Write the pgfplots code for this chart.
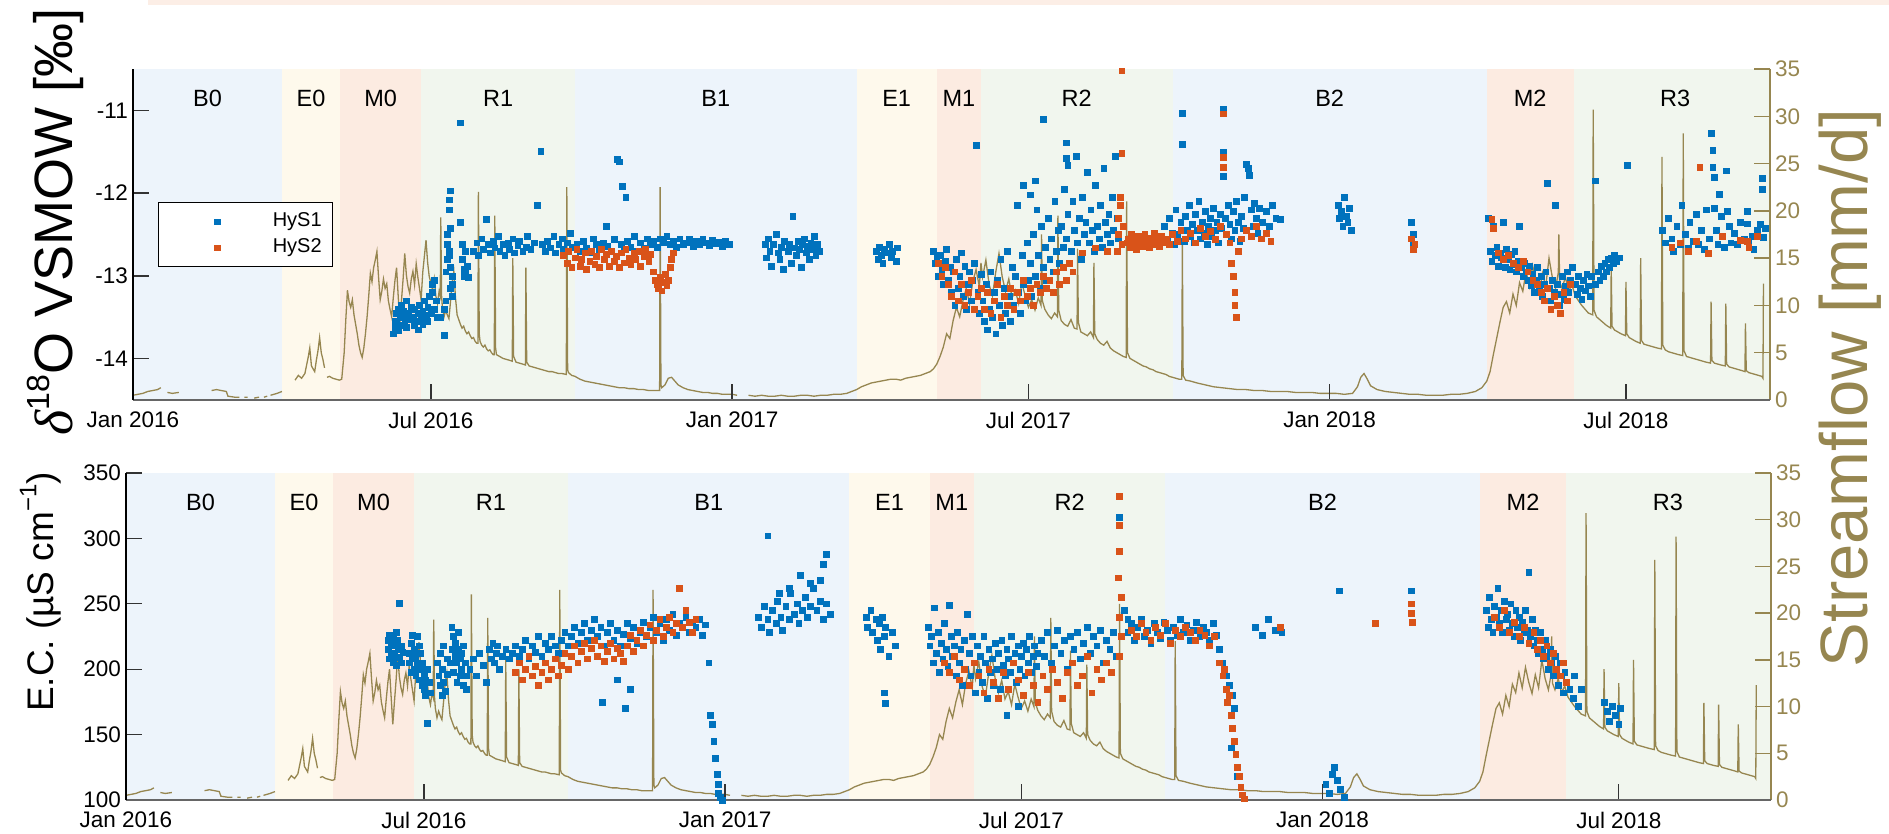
\documentclass[border=0pt]{standalone}
\usepackage{fontspec}
\setmainfont{Liberation Sans}
\newfontfamily\greekserif{Liberation Serif}
\usepackage{pgfplots}
\pgfplotsset{compat=1.18}
\usepackage{pgfplotstable}
\definecolor{flowc}{RGB}{150,134,80}
\definecolor{hysA}{RGB}{0,114,189}
\definecolor{hysB}{RGB}{217,83,25}
\definecolor{cB}{RGB}{237,244,251}
\definecolor{cE}{RGB}{254,249,236}
\definecolor{cM}{RGB}{252,235,225}
\definecolor{cR}{RGB}{241,246,238}
\definecolor{strip}{RGB}{252,238,230}
\newcommand{\tf}{\fontsize{22.5bp}{27bp}\selectfont}
\newcommand{\lf}{\fontsize{23.5bp}{28bp}\selectfont}

% streamflow (mm/d), days since 1 Jan 2016
\pgfplotstableread[row sep=\\]{d q\\
0 0.5\\ 3 0.6\\ 6 0.7\\ 9 0.9\\ 12 1.0\\ 15 1.1\\ 17 1.3\\ 18 nan\\ 21 0.8\\ 24 0.7\\ 28 0.8\\ 29 nan\\
48 1.0\\ 51 1.1\\ 54 1.0\\ 57 0.9\\ 58 0.4\\ 62 0.3\\ 65 0.3\\ 66 nan\\ 68 0.3\\ 70 0.3\\ 71 nan\\ 74 0.2\\ 77 0.3\\ 78 nan\\
80 0.3\\ 82 0.4\\ 83 nan\\ 84 0.5\\ 86 0.6\\ 88 0.7\\ 91 0.9\\ 92 nan\\
99 2.1\\ 101 2.6\\ 103 2.3\\ 105 2.8\\ 107 4.5\\ 108 5.5\\ 109 3.6\\ 111 3.0\\ 112 4.2\\ 113 5.2\\ 114 6.6\\ 115 5.0\\ 116 4.3\\ 117 3.4\\ 117.5 nan\\
118.5 2.4\\ 120 2.5\\ 122 2.3\\ 124 2.2\\ 126 2.1\\ 127.5 2.2\\
129 5.0\\ 130 8.5\\ 131 11.6\\ 132 10.4\\ 133 9.8\\ 134 10.6\\ 135 9.0\\ 136 8.0\\ 137 7.0\\ 138 5.8\\ 139 5.0\\ 140 4.5\\ 141 5.5\\ 142 7.0\\ 143 8.8\\ 144 11.0\\ 145 13.4\\ 146 12.5\\ 147 14.0\\ 148 14.8\\ 149 15.7\\ 150 13.0\\
151 10.6\\ 152 11.5\\ 153 12.8\\ 154 11.8\\ 155 12.3\\ 156 10.5\\ 157 9.6\\ 158 8.8\\ 159 10.8\\ 160 12.6\\ 161 14.0\\ 162 11.0\\ 163 8.1\\ 164 10.5\\ 165 12.8\\ 166 15.5\\ 167 13.2\\ 168 12.0\\ 169 11.3\\ 170 12.8\\
171 13.6\\ 172 12.2\\ 173 14.4\\ 174 13.0\\ 175 11.8\\ 176 10.6\\ 177 13.5\\ 178 15.2\\ 179 16.9\\ 180 14.5\\ 181 13.0\\ 182 12.4\\ 183 11.6\\ 184 12.8\\ 185 11.0\\ 186 10.2\\ 187 11.5\\ 187.7 11.0\\ 188 19.3\\ 188.5 11.0\\
189 9.8\\ 190 8.8\\ 191 9.5\\ 192 9.0\\ 193 8.6\\ 194 10.5\\ 195 12.5\\ 196 13.6\\ 197 10.8\\ 198 9.0\\ 199 8.5\\ 200 8.0\\ 201 7.6\\ 202 7.8\\ 203 7.3\\ 204 7.0\\ 205 7.2\\ 206 6.8\\ 207 6.5\\ 208 6.6\\ 209 6.2\\ 210 6.0\\
210.7 6.0\\ 211 22.0\\ 211.5 7.0\\ 212 6.2\\ 213 5.8\\ 214 5.6\\ 215 5.8\\ 216 5.4\\ 217 5.2\\ 218 5.3\\ 219 5.0\\ 220 4.8\\ 220.7 4.8\\ 221 19.5\\ 221.5 5.5\\ 222 4.8\\ 224 4.6\\ 226 4.4\\ 228 4.3\\ 230 4.2\\
231.7 4.1\\ 232 15.0\\ 232.5 4.6\\ 234 4.0\\ 236 3.9\\ 238 3.8\\ 239.7 3.7\\ 240 14.0\\ 240.5 4.0\\ 242 3.6\\ 244 3.5\\ 246 3.4\\ 248 3.3\\ 250 3.2\\ 252 3.1\\ 254 3.0\\ 256 3.0\\ 258 2.9\\ 260 2.8\\ 262 2.8\\
264.7 2.7\\ 265 22.5\\ 265.5 3.2\\ 266 2.9\\ 268 2.6\\ 270 2.5\\ 273 2.2\\ 276 2.0\\ 279 1.9\\ 282 1.8\\ 285 1.7\\ 288 1.6\\ 291 1.5\\ 294 1.4\\ 297 1.3\\ 300 1.3\\ 303 1.2\\ 306 1.2\\ 309 1.1\\ 312 1.1\\ 315 1.0\\ 318 1.0\\
321.7 1.0\\ 322 22.5\\ 322.5 1.6\\ 323 1.3\\ 325 1.6\\ 327 2.3\\ 329 2.4\\ 331 2.0\\ 333 1.6\\ 336 1.3\\ 339 1.1\\ 342 1.0\\ 345 0.9\\ 348 0.8\\ 351 0.8\\ 354 0.7\\ 357 0.7\\ 360 0.6\\ 363 0.6\\ 366 0.6\\ 369 0.5\\ 372 nan\\
376 0.5\\ 380 0.4\\ 384 0.5\\ 388 0.4\\ 392 0.4\\ 396 0.5\\ 400 0.4\\ 404 0.4\\ 408 0.5\\ 412 0.5\\ 416 0.4\\ 420 0.5\\ 424 0.5\\ 428 0.6\\ 432 0.6\\ 436 0.7\\ 439 0.9\\ 442 1.1\\ 445 1.4\\ 448 1.6\\ 451 1.8\\
454 1.9\\ 457 2.0\\ 460 2.1\\ 463 2.2\\ 466 2.2\\ 469 2.1\\ 472 2.3\\ 475 2.4\\ 478 2.5\\ 481 2.6\\ 484 2.8\\ 487 3.0\\ 489 3.3\\ 491 3.8\\ 493 4.6\\ 495 5.6\\ 497 7.0\\ 499 6.5\\ 501 8.4\\ 503 9.8\\ 505 8.8\\
507 10.5\\ 509 11.8\\ 511 10.2\\ 513 12.5\\ 515 13.8\\ 517 12.0\\ 518 14.5\\ 519 13.0\\ 521 14.8\\ 523 12.2\\ 525 11.0\\ 527 13.5\\ 529 15.5\\ 531 13.0\\ 533 11.5\\ 535 12.8\\ 537 10.8\\ 539 11.6\\ 541 10.2\\
543 12.4\\ 545 11.0\\ 547 9.8\\ 549 10.6\\ 551 9.5\\ 553 10.8\\ 554.7 10.0\\ 555 17.5\\ 555.5 10.5\\ 557 9.6\\ 559 9.0\\ 561 8.6\\ 563 9.2\\ 564.7 8.8\\ 565 19.5\\ 565.5 9.5\\ 567 8.4\\ 569 8.0\\ 571 7.8\\ 573 8.5\\
575 7.6\\ 576.7 7.5\\ 577 16.0\\ 577.5 8.2\\ 579 7.2\\ 581 7.0\\ 583 6.8\\ 585 7.2\\ 586.7 6.6\\ 587 14.5\\ 587.5 7.0\\ 589 6.4\\ 591 6.0\\ 593 5.8\\ 595 6.2\\ 597 5.5\\ 599 5.2\\ 601 5.0\\ 603 4.8\\ 605 4.6\\
606.7 4.5\\ 607 21.0\\ 607.5 5.0\\ 609 4.4\\ 611 4.2\\ 613 4.0\\ 615 3.8\\ 617 3.6\\ 619 3.5\\ 621 3.3\\ 623 3.2\\ 625 3.0\\ 627 2.9\\ 629 2.8\\ 631 2.7\\ 633 2.5\\ 635 2.4\\ 637 2.3\\ 639 2.2\\
640.7 2.2\\ 641 17.0\\ 641.5 2.6\\ 643 2.1\\ 646 2.0\\ 650 1.8\\ 655 1.6\\ 660 1.4\\ 665 1.3\\ 670 1.2\\ 675 1.1\\ 680 1.1\\ 685 1.0\\ 690 1.0\\ 695 0.9\\ 700 0.9\\ 705 0.9\\ 710 0.8\\ 715 0.8\\ 720 0.8\\
725 0.7\\ 730 0.7\\ 735 0.7\\ 740 0.6\\ 745 0.7\\ 748 1.4\\ 750 2.4\\ 752 2.8\\ 754 2.2\\ 756 1.5\\ 760 1.1\\ 765 0.9\\ 770 0.8\\ 775 0.7\\ 780 0.6\\ 785 0.6\\ 790 0.5\\ 795 0.5\\ 800 0.5\\ 805 0.6\\ 810 0.6\\
815 0.7\\ 820 0.9\\ 824 1.3\\ 827 2.0\\ 829 3.0\\ 831 4.8\\ 833 6.5\\ 835 8.2\\ 837 9.8\\ 839 10.4\\ 841 9.2\\ 843 11.2\\ 845 10.0\\ 847 12.4\\ 849 11.5\\ 851 13.6\\ 853 12.0\\ 855 14.2\\ 857 12.6\\ 859 11.4\\
861 13.4\\ 863 12.0\\ 865 15.0\\ 867 13.0\\ 869 11.8\\ 870.7 13.5\\ 871 17.5\\ 871.5 12.5\\ 873 11.8\\ 875 13.0\\ 877 11.5\\ 879 12.2\\ 881 11.0\\ 883 10.5\\ 885 10.0\\ 887 9.6\\ 889 9.2\\
891.7 9.0\\ 892 30.7\\ 892.5 9.5\\ 894 8.8\\ 896 8.5\\ 898 8.2\\ 900 7.9\\ 902.7 7.6\\ 903 14.0\\ 903.5 7.8\\ 905 7.4\\ 907 7.2\\ 909 7.0\\ 911.7 6.8\\ 912 12.5\\ 912.5 7.0\\ 914 6.6\\ 916 6.4\\ 918 6.2\\
920.7 6.0\\ 921 15.0\\ 921.5 6.3\\ 923 5.9\\ 925 5.8\\ 927 5.7\\ 929 5.6\\ 931 5.5\\ 933.7 5.4\\ 934 25.7\\ 934.5 5.8\\ 936 5.3\\ 938 5.1\\ 940 5.0\\ 942 4.9\\ 944 4.8\\ 946.7 4.7\\ 947 28.2\\ 947.5 5.2\\
949 4.6\\ 951 4.5\\ 953 4.4\\ 955 4.3\\ 957 4.2\\ 959 4.1\\ 961 4.0\\ 963.7 3.9\\ 964 10.4\\ 964.5 4.2\\ 966 3.9\\ 968 3.8\\ 970 3.7\\ 972.7 3.6\\ 973 10.2\\ 973.5 3.8\\ 975 3.5\\ 977 3.4\\ 979 3.3\\
981 3.2\\ 983 3.1\\ 984.7 3.0\\ 985 8.1\\ 985.5 3.1\\ 987 2.9\\ 989 2.8\\ 991 2.7\\ 993 2.6\\ 995 2.5\\ 995.7 2.3\\ 996 12.3\\
}\flow

% delta18O HyS1
\pgfplotstableread[row sep=\\]{d v\\
159 -13.70\\ 160 -13.55\\ 160 -13.62\\ 161 -13.45\\ 161 -13.58\\ 162 -13.40\\ 162 -13.66\\ 163 -13.50\\ 164 -13.35\\ 164 -13.60\\ 165 -13.48\\ 165 -13.42\\ 166 -13.55\\ 167 -13.30\\ 167 -13.62\\ 168 -13.45\\ 169 -13.52\\ 170 -13.38\\
171 -13.50\\ 172 -13.60\\ 172 -13.40\\ 173 -13.55\\ 174 -13.45\\ 174 -13.65\\ 175 -13.35\\ 176 -13.50\\ 177 -13.42\\ 177 -13.58\\ 178 -13.30\\ 179 -13.48\\ 180 -13.38\\ 180 -13.55\\ 181 -13.25\\ 182 -13.45\\ 183 -13.10\\ 183 -13.20\\ 184 -13.05\\ 184 -13.40\\ 185 -13.30\\ 186 -13.50\\ 188 -13.50\\
190 -13.72\\ 190 -13.40\\ 191 -13.30\\ 191 -12.95\\ 192 -12.80\\ 192 -12.62\\ 192 -12.50\\ 193 -12.20\\ 193 -12.08\\ 194 -11.97\\ 194 -12.42\\ 193 -12.70\\ 194 -12.90\\ 195 -13.00\\ 195 -13.10\\ 195 -13.25\\ 193 -12.75\\ 194 -13.15\\
200 -11.15\\ 200 -12.35\\ 201 -12.62\\ 201 -12.80\\ 202 -12.92\\ 202 -13.00\\ 203 -12.95\\ 204 -12.88\\ 203 -12.70\\ 205 -13.02\\
208 -12.70\\ 210 -12.60\\ 211 -12.75\\ 213 -12.55\\ 214 -12.68\\ 216 -12.32\\ 217 -12.62\\ 218 -12.72\\ 220 -12.58\\ 221 -12.66\\ 223 -12.52\\ 224 -12.70\\ 226 -12.62\\ 227 -12.75\\ 229 -12.60\\ 230 -12.68\\ 232 -12.55\\ 233 -12.72\\
235 -12.63\\ 236 -12.58\\ 238 -12.70\\ 240 -12.65\\ 241 -12.52\\ 243 -12.68\\ 245 -12.60\\ 247 -12.15\\ 249 -11.49\\ 250 -12.62\\ 252 -12.70\\ 253 -12.58\\ 255 -12.66\\ 257 -12.52\\ 258 -12.72\\ 260 -12.62\\ 262 -12.55\\ 263 -12.68\\ 265 -12.60\\ 267 -12.48\\ 268 -12.65\\
271 -12.62\\ 273 -12.70\\ 275 -12.58\\ 277 -12.66\\ 279 -12.72\\ 281 -12.55\\ 283 -12.62\\ 285 -12.68\\ 287 -12.60\\ 289 -12.40\\ 290 -12.64\\ 292 -12.70\\ 294 -12.56\\ 296 -11.59\\ 297 -11.62\\ 298 -12.62\\ 299 -11.92\\ 300 -12.68\\ 301 -12.05\\ 302 -12.58\\
304 -12.65\\ 306 -12.52\\ 308 -12.70\\ 310 -12.60\\ 312 -12.66\\ 314 -12.55\\ 316 -12.62\\ 318 -12.58\\ 320 -12.65\\ 322 -12.55\\ 324 -12.60\\ 326 -12.52\\ 328 -12.62\\ 330 -12.58\\ 332 -12.65\\ 334 -12.55\\ 336 -12.62\\ 338 -12.60\\
340 -12.56\\ 342 -12.64\\ 344 -12.58\\ 346 -12.62\\ 348 -12.55\\ 350 -12.60\\ 352 -12.63\\ 354 -12.57\\ 356 -12.61\\ 358 -12.59\\ 360 -12.64\\ 362 -12.58\\ 364 -12.62\\
386 -12.62\\ 387 -12.78\\ 388 -12.55\\ 389 -12.70\\ 390 -12.88\\ 391 -12.62\\ 393 -12.50\\ 394 -12.72\\ 395 -12.80\\ 396 -12.65\\ 397 -12.92\\ 398 -12.58\\ 400 -12.70\\ 401 -12.62\\ 402 -12.85\\ 403 -12.28\\ 404 -12.66\\ 405 -12.75\\
406 -12.58\\ 407 -12.68\\ 408 -12.90\\ 409 -12.62\\ 410 -12.55\\ 411 -12.72\\ 412 -12.64\\ 413 -12.80\\ 414 -12.60\\ 415 -12.68\\ 416 -12.52\\ 417 -12.75\\ 418 -12.62\\ 419 -12.70\\
454 -12.70\\ 455 -12.80\\ 456 -12.65\\ 457 -12.75\\ 458 -12.85\\ 459 -12.68\\ 460 -12.72\\ 462 -12.62\\ 463 -12.78\\ 464 -12.70\\ 466 -12.82\\ 467 -12.66\\
489 -12.70\\ 490 -12.85\\ 491 -12.78\\ 492 -13.00\\ 493 -12.75\\ 494 -12.92\\ 495 -13.10\\ 496 -12.82\\ 497 -12.68\\ 498 -13.05\\ 499 -12.90\\ 500 -13.20\\ 501 -12.95\\ 502 -13.35\\ 503 -12.80\\ 504 -13.15\\ 505 -13.00\\
506 -12.72\\ 507 -13.25\\ 508 -12.88\\ 509 -13.40\\ 510 -13.10\\ 511 -12.95\\ 512 -13.30\\ 513 -13.05\\ 514 -12.85\\ 515 -11.42\\ 516 -13.20\\ 517 -13.45\\ 518 -12.98\\
519 -13.30\\ 520 -13.55\\ 521 -13.10\\ 522 -13.65\\ 523 -13.40\\ 524 -12.95\\ 525 -13.50\\ 526 -13.20\\ 527 -13.70\\ 528 -13.05\\ 529 -13.35\\ 530 -12.80\\ 531 -13.60\\ 532 -13.15\\ 533 -13.45\\ 534 -12.70\\ 535 -13.25\\ 536 -13.55\\
537 -12.90\\ 538 -13.35\\ 539 -13.00\\ 540 -12.15\\ 541 -13.20\\ 542 -13.45\\ 543 -12.75\\ 544 -13.10\\ 545 -13.30\\ 546 -12.60\\ 547 -13.05\\ 548 -12.85\\ 549 -13.25\\ 550 -12.50\\ 551 -13.00\\ 552 -12.20\\ 553 -12.75\\ 554 -13.15\\
555 -12.40\\ 556 -12.90\\ 557 -12.65\\ 558 -13.05\\ 559 -12.30\\ 560 -12.80\\ 561 -12.55\\ 562 -12.95\\ 563 -12.10\\ 564 -12.70\\ 565 -12.45\\ 566 -12.85\\ 544 -11.90\\ 548 -12.02\\ 551 -11.85\\ 556 -11.11\\
567 -12.40\\ 568 -12.65\\ 569 -11.95\\ 570 -12.55\\ 571 -12.25\\ 570 -11.39\\ 570 -11.58\\ 571 -11.66\\ 573 -12.70\\ 574 -12.10\\ 575 -12.45\\ 576 -11.55\\ 577 -12.60\\ 578 -12.30\\ 579 -12.80\\ 580 -12.05\\ 581 -12.50\\
582 -12.35\\ 583 -11.75\\ 584 -12.60\\ 585 -12.20\\ 586 -12.45\\ 587 -12.70\\ 588 -11.90\\ 589 -12.40\\ 590 -12.55\\ 591 -12.15\\ 592 -12.65\\ 593 -11.70\\ 594 -12.35\\ 595 -12.50\\ 596 -12.25\\ 597 -12.60\\ 598 -12.05\\ 599 -12.45\\ 600 -11.55\\ 601 -12.30\\ 602 -12.55\\
630 -12.40\\ 632 -12.55\\ 633 -12.30\\ 635 -12.48\\ 636 -12.62\\ 637 -12.20\\ 638 -12.50\\ 640 -12.35\\ 641 -11.03\\ 641 -11.41\\ 642 -12.58\\ 643 -12.28\\ 644 -12.45\\ 645 -12.15\\ 646 -12.52\\ 647 -12.38\\ 648 -12.60\\ 649 -12.25\\
650 -12.45\\ 651 -12.10\\ 652 -12.55\\ 653 -12.35\\ 654 -12.48\\ 655 -12.22\\ 656 -12.62\\ 657 -12.40\\ 658 -12.30\\ 659 -12.52\\ 660 -12.18\\ 661 -12.45\\ 662 -12.35\\ 663 -12.60\\ 664 -12.25\\ 665 -12.42\\ 666 -10.99\\ 666 -11.51\\ 666 -11.80\\
667 -12.30\\ 668 -12.50\\ 669 -12.15\\ 670 -12.38\\ 671 -12.55\\ 672 -12.22\\ 673 -12.45\\ 674 -12.10\\ 675 -12.35\\ 676 -12.58\\ 677 -12.28\\ 678 -12.42\\ 679 -12.05\\ 680 -11.65\\ 681 -11.70\\ 682 -11.78\\ 683 -12.20\\ 684 -12.40\\
685 -12.12\\ 686 -12.30\\ 687 -12.48\\ 688 -12.18\\ 690 -12.35\\ 692 -12.22\\ 694 -12.40\\ 696 -12.15\\ 698 -12.30\\ 701 -12.32\\
736 -12.15\\ 737 -12.30\\ 738 -12.22\\ 739 -12.40\\ 740 -12.05\\ 741 -12.28\\ 742 -12.35\\ 743 -12.18\\ 744 -12.45\\ 781 -12.35\\ 782 -12.50\\ 782 -12.62\\
828 -12.30\\ 829 -12.70\\ 830 -12.82\\ 831 -12.40\\ 832 -12.75\\ 833 -12.65\\ 834 -12.88\\ 835 -12.72\\ 836 -12.78\\ 837 -12.35\\ 838 -12.90\\ 839 -12.68\\ 840 -12.80\\ 841 -12.92\\ 842 -12.74\\ 843 -12.86\\ 844 -12.70\\
845 -12.95\\ 846 -12.82\\ 847 -12.40\\ 848 -12.90\\ 849 -13.00\\ 850 -12.85\\ 851 -12.95\\ 852 -13.05\\ 853 -12.88\\ 854 -13.12\\ 855 -12.98\\ 856 -13.20\\ 857 -13.05\\ 858 -12.90\\ 859 -13.15\\ 860 -13.00\\ 861 -13.25\\
862 -13.10\\ 863 -12.95\\ 864 -11.88\\ 865 -13.15\\ 866 -13.30\\ 867 -13.05\\ 868 -13.20\\ 869 -12.15\\ 870 -13.10\\ 871 -13.35\\ 872 -13.22\\ 873 -13.00\\ 874 -13.28\\ 875 -13.12\\ 876 -12.95\\ 877 -13.20\\ 878 -13.05\\ 879 -12.90\\
881 -13.10\\ 882 -13.22\\ 883 -13.00\\ 884 -13.15\\ 885 -13.28\\ 886 -13.05\\ 887 -13.18\\ 888 -12.98\\ 889 -13.12\\ 890 -13.25\\ 891 -13.00\\ 893 -11.85\\ 893 -13.10\\ 895 -12.95\\ 896 -13.05\\ 897 -12.88\\ 898 -13.00\\
899 -12.85\\ 900 -12.95\\ 901 -12.80\\ 902 -12.90\\ 903 -12.78\\ 904 -12.85\\ 905 -12.75\\ 906 -12.82\\ 908 -12.78\\ 913 -11.66\\
934 -12.45\\ 936 -12.60\\ 938 -12.30\\ 940 -12.55\\ 941 -12.70\\ 943 -12.40\\ 945 -12.62\\ 946 -12.15\\ 948 -12.50\\ 950 -12.66\\ 951 -12.35\\ 953 -12.58\\ 955 -12.25\\ 956 -12.62\\ 958 -12.45\\ 960 -12.68\\ 961 -12.20\\ 963 -12.55\\
964 -11.28\\ 965 -11.48\\ 965 -11.69\\ 966 -11.81\\ 966 -12.18\\ 967 -12.45\\ 968 -12.62\\ 969 -12.01\\ 970 -12.28\\ 971 -12.52\\ 972 -12.65\\ 973 -11.73\\ 974 -12.22\\ 975 -12.40\\ 976 -12.60\\ 978 -12.48\\ 980 -12.62\\
982 -12.35\\ 984 -12.55\\ 986 -12.22\\ 986 -12.37\\ 987 -12.60\\ 989 -12.52\\ 990 -12.68\\ 992 -12.45\\ 994 -12.38\\ 995 -11.82\\ 995 -11.95\\ 996 -12.53\\ 997 -12.42\\
}\topA

% delta18O HyS2
\pgfplotstableread[row sep=\\]{d v\\
263 -12.75\\ 265 -12.85\\ 266 -12.70\\ 268 -12.90\\ 270 -12.78\\ 271 -12.68\\ 273 -12.88\\ 274 -12.80\\ 276 -12.72\\ 277 -12.92\\ 279 -12.82\\ 280 -12.70\\ 282 -12.86\\ 283 -12.76\\ 285 -12.90\\ 286 -12.68\\ 288 -12.80\\ 289 -12.74\\
291 -12.88\\ 292 -12.70\\ 294 -12.82\\ 295 -12.76\\ 297 -12.90\\ 298 -12.72\\ 300 -12.84\\ 301 -12.68\\ 303 -12.78\\ 304 -12.86\\ 306 -12.72\\ 307 -12.80\\ 309 -12.70\\ 310 -12.88\\ 312 -12.76\\ 313 -12.68\\ 315 -12.82\\ 316 -12.74\\
318 -12.95\\ 319 -13.05\\ 320 -13.10\\ 321 -13.15\\ 322 -13.02\\ 323 -13.18\\ 324 -13.08\\ 325 -12.98\\ 326 -13.12\\ 327 -13.05\\ 328 -12.90\\ 329 -12.80\\ 330 -12.72\\
492 -12.85\\ 494 -13.00\\ 496 -12.90\\ 498 -13.10\\ 500 -13.25\\ 502 -12.95\\ 504 -13.30\\ 506 -13.10\\ 508 -13.35\\ 510 -13.20\\ 512 -13.05\\ 514 -13.40\\ 516 -13.25\\ 518 -13.15\\
520 -13.40\\ 522 -13.20\\ 524 -13.45\\ 526 -13.30\\ 528 -13.10\\ 530 -13.50\\ 532 -13.25\\ 534 -13.35\\ 536 -13.15\\ 538 -13.40\\ 540 -13.20\\ 542 -13.30\\ 544 -13.05\\ 546 -13.25\\ 548 -13.15\\ 550 -13.35\\ 552 -13.10\\
554 -13.20\\ 556 -13.00\\ 558 -13.15\\ 560 -13.05\\ 562 -13.20\\ 564 -12.95\\ 566 -13.10\\ 568 -12.90\\ 570 -13.05\\ 572 -12.85\\ 574 -12.95\\ 580 -12.72\\ 588 -12.66\\ 595 -12.70\\
601 -12.70\\ 602 -12.50\\ 602 -12.30\\ 603 -12.15\\ 603 -12.05\\ 604 -11.52\\ 604 -10.52\\ 604 -12.62\\ 605 -12.40\\
607 -12.60\\ 608 -12.55\\ 609 -12.65\\ 610 -12.50\\ 611 -12.62\\ 612 -12.58\\ 613 -12.68\\ 614 -12.52\\ 615 -12.60\\ 616 -12.56\\ 617 -12.64\\ 618 -12.50\\ 619 -12.62\\ 620 -12.58\\ 621 -12.66\\ 622 -12.54\\ 623 -12.60\\
624 -12.48\\ 625 -12.62\\ 626 -12.56\\ 627 -12.64\\ 628 -12.52\\ 629 -12.60\\ 631 -12.55\\ 633 -12.62\\
635 -12.50\\ 638 -12.58\\ 640 -12.45\\ 643 -12.55\\ 646 -12.48\\ 649 -12.60\\ 652 -12.42\\ 655 -12.52\\ 658 -12.46\\ 661 -12.56\\ 664 -12.40\\ 666 -11.04\\ 666 -11.57\\ 666 -11.69\\ 668 -12.50\\ 670 -12.60\\
671 -12.85\\ 672 -13.00\\ 673 -13.20\\ 673 -13.35\\ 674 -13.50\\ 675 -12.70\\ 677 -12.55\\ 680 -12.45\\ 683 -12.52\\ 686 -12.40\\ 689 -12.55\\ 692 -12.48\\ 695 -12.58\\
781 -12.55\\ 782 -12.68\\ 783 -12.62\\
830 -12.32\\ 831 -12.42\\ 834 -12.72\\ 837 -12.80\\ 840 -12.75\\ 843 -12.85\\ 846 -12.90\\ 849 -12.82\\ 852 -12.95\\ 855 -13.05\\ 858 -13.10\\ 860 -13.20\\ 862 -13.30\\ 864 -13.15\\ 866 -13.40\\ 868 -13.25\\
870 -13.35\\ 872 -13.45\\ 874 -13.20\\ 876 -13.30\\ 878 -13.10\\
940 -12.65\\ 945 -12.60\\ 950 -12.70\\ 955 -12.58\\ 957 -11.69\\ 962 -12.73\\ 971 -12.52\\ 982 -12.57\\ 986 -12.58\\ 987 -12.65\\ 992 -12.52\\
}\topB

% E.C. HyS1
\pgfplotstableread[row sep=\\]{d v\\
160 215\\ 160 222\\ 161 208\\ 161 226\\ 162 212\\ 162 218\\ 163 205\\ 163 224\\ 164 210\\ 164 220\\ 165 228\\ 165 203\\ 166 215\\ 166 222\\ 167 250.6\\ 167 209\\ 168 218\\ 168 205\\ 169 213\\
173 205\\ 173 212\\ 174 198\\ 174 220\\ 175 208\\ 175 226\\ 176 200\\ 176 215\\ 177 195\\ 177 210\\ 178 225\\ 178 205\\ 179 192\\ 179 218\\ 180 200\\ 180 212\\ 181 188\\ 181 205\\ 182 197\\ 182 185\\ 183 192\\ 183 180\\ 184 159\\ 184 200\\ 185 190\\ 186 182\\
190 205\\ 191 195\\ 192 188\\ 192 212\\ 193 180\\ 193 200\\ 194 218\\ 194 190\\ 195 183\\ 196 208\\ 196 196\\
198 205\\ 199 232\\ 199 215\\ 200 225\\ 200 198\\ 201 210\\ 201 220\\ 202 190\\ 202 205\\ 203 215\\ 203 228\\ 204 195\\ 204 208\\ 205 200\\ 205 212\\ 206 188\\ 206 218\\ 207 205\\ 208 195\\ 208 185\\
210 200\\ 212 208\\ 214 195\\ 216 212\\ 218 203\\ 220 190\\ 222 215\\ 223 208\\ 224 220\\ 225 205\\ 226 212\\ 227 218\\ 228 200\\ 230 210\\ 232 215\\ 234 208\\ 236 212\\ 238 218\\ 240 210\\ 242 215\\ 244 222\\ 246 208\\
248 218\\ 250 213\\ 252 225\\ 254 210\\ 256 220\\ 258 215\\ 260 225\\ 262 218\\ 264 212\\ 266 222\\ 268 228\\ 270 218\\
272 225\\ 274 232\\ 276 220\\ 278 228\\ 280 235\\ 282 222\\ 284 230\\ 286 238\\ 288 225\\ 290 232\\ 292 218\\ 294 228\\ 296 235\\ 298 222\\ 300 230\\ 302 218\\ 304 227\\ 306 235\\ 308 224\\ 310 232\\ 312 220\\ 314 228\\
316 236\\ 318 225\\ 320 232\\ 322 240\\ 324 228\\ 326 235\\ 328 222\\ 330 238\\ 332 230\\ 334 242\\ 336 226\\ 338 235\\ 340 232\\ 342 240\\ 344 228\\ 346 236\\ 348 232\\ 350 238\\ 352 226\\ 354 234\\
291 175\\ 300 192\\ 305 170\\ 308 185\\
356 205\\ 357 165\\ 358 158\\ 359 145\\ 360 132\\ 361 120\\ 362 112\\ 362 105\\ 363 102\\ 364 100\\
386 240\\ 388 232\\ 390 248\\ 392 238\\ 393 228\\ 395 245\\ 397 235\\ 398 252\\ 400 240\\ 401 230\\ 403 248\\ 405 238\\ 406 258\\ 408 242\\ 410 250\\ 411 235\\ 413 245\\ 415 255\\ 416 240\\ 418 248\\ 420 262\\
422 245\\ 424 252\\ 426 238\\ 428 250\\ 430 242\\ 392 302\\ 412 272\\ 418 266\\ 426 280\\ 428 288\\ 424 268\\ 405 262\\ 399 258\\
452 240\\ 453 232\\ 455 245\\ 456 228\\ 458 238\\ 459 222\\ 460 235\\ 461 215\\ 462 240\\ 463 225\\ 464 232\\ 466 210\\ 468 228\\ 470 218\\ 463 182\\ 464 174\\
490 232\\ 491 218\\ 492 225\\ 493 205\\ 494 247\\ 495 212\\ 496 228\\ 497 198\\ 498 220\\ 499 208\\ 500 235\\ 501 215\\ 502 202\\ 503 249\\ 504 225\\ 505 210\\ 506 218\\ 507 195\\ 508 228\\ 509 205\\ 510 215\\
511 188\\ 512 222\\ 513 200\\ 514 242\\ 515 212\\ 516 195\\ 517 225\\ 518 205\\ 519 182\\ 520 218\\ 521 198\\ 522 210\\ 523 190\\ 524 225\\ 525 205\\ 526 178\\ 527 215\\ 528 198\\ 529 208\\ 530 188\\ 531 220\\
532 200\\ 533 212\\ 534 185\\ 535 222\\ 536 203\\ 537 195\\ 538 215\\ 539 208\\ 540 198\\ 541 225\\ 542 205\\ 543 212\\ 544 190\\ 545 218\\ 546 200\\ 547 210\\ 548 220\\ 549 195\\ 550 215\\ 551 205\\ 552 225\\
553 198\\ 554 210\\ 555 218\\ 556 202\\ 557 212\\ 538 165\\ 545 172\\
559 222\\ 561 210\\ 563 228\\ 565 205\\ 567 218\\ 569 230\\ 571 212\\ 573 222\\ 575 200\\ 577 225\\ 579 215\\ 581 228\\ 583 208\\ 585 220\\ 587 232\\ 589 212\\ 591 225\\ 593 218\\ 595 230\\ 597 205\\ 599 222\\
601 215\\ 603 228\\ 605 210\\ 610 245\\ 612 238\\ 607 316\\
612 228\\ 614 235\\ 616 222\\ 618 232\\ 620 238\\ 622 225\\ 624 230\\ 626 220\\ 628 235\\ 630 228\\ 632 224\\ 634 236\\ 636 230\\ 638 222\\ 640 232\\ 642 226\\ 644 238\\ 646 228\\ 648 234\\ 650 222\\ 652 230\\
654 236\\ 656 225\\ 658 232\\ 660 228\\ 662 222\\ 664 235\\ 666 226\\
668 215\\ 670 205\\ 672 195\\ 674 188\\ 675 140\\ 676 180\\ 677 170\\ 679 118\\
690 232\\ 694 226\\ 698 238\\ 702 230\\ 706 228\\
733 112\\ 735 105\\ 737 120\\ 738 125\\ 740 115\\ 742 108\\ 744 102\\ 741 260\\ 785 260\\
831 245\\ 832 232\\ 833 255\\ 834 238\\ 835 228\\ 836 248\\ 837 240\\ 838 262\\ 839 235\\ 840 245\\ 841 228\\ 842 252\\ 843 238\\ 844 242\\ 845 230\\ 846 250\\ 847 235\\ 848 225\\ 849 245\\ 850 232\\ 851 240\\
852 222\\ 853 236\\ 854 228\\ 855 245\\ 856 230\\ 857 274\\ 858 225\\ 859 238\\ 860 218\\ 861 230\\ 862 222\\ 863 212\\ 864 228\\ 865 215\\ 866 208\\ 867 222\\ 868 210\\ 869 200\\ 870 215\\ 871 205\\ 872 195\\
873 210\\ 874 200\\ 875 188\\ 876 205\\ 877 195\\ 878 182\\ 879 198\\ 880 190\\ 882 185\\ 884 178\\ 885 195\\ 887 172\\ 889 185\\
903 175\\ 905 168\\ 906 160\\ 908 172\\ 910 165\\ 912 158\\ 913 170\\
}\botA

% E.C. HyS2
\pgfplotstableread[row sep=\\]{d v\\
238 198\\ 240 205\\ 242 192\\ 244 200\\ 246 210\\ 248 195\\ 250 202\\ 252 188\\ 254 198\\ 256 205\\ 258 192\\ 260 200\\ 262 208\\ 264 195\\ 266 203\\ 268 212\\ 270 200\\
272 210\\ 274 218\\ 276 205\\ 278 214\\ 280 220\\ 282 208\\ 284 216\\ 286 222\\ 288 210\\ 290 218\\ 292 206\\ 294 214\\ 296 220\\ 298 208\\ 300 216\\ 302 212\\ 304 206\\ 306 218\\ 308 226\\ 310 214\\ 312 222\\
314 230\\ 316 218\\ 318 226\\ 320 234\\ 322 222\\ 324 230\\ 326 238\\ 328 225\\ 330 232\\ 332 240\\ 334 228\\ 336 235\\ 338 262\\ 340 232\\ 342 245\\ 344 236\\ 346 228\\ 348 238\\
500 205\\ 503 198\\ 506 210\\ 509 192\\ 512 200\\ 515 188\\ 518 205\\ 521 195\\ 524 182\\ 527 200\\ 530 190\\ 533 178\\ 536 198\\ 539 185\\ 542 205\\ 545 192\\ 548 180\\ 551 198\\ 554 188\\ 557 175\\ 560 195\\
563 185\\ 566 200\\ 569 190\\ 572 178\\ 575 198\\ 578 205\\ 581 188\\ 584 195\\ 587 210\\ 590 182\\ 593 200\\ 596 192\\ 599 205\\ 602 198\\
607 332\\ 607 310\\ 607 290\\ 606 270\\ 608 255\\ 607 240\\ 608 225\\ 607 210\\
614 230\\ 617 225\\ 620 235\\ 623 228\\ 626 222\\ 629 232\\ 632 226\\ 635 235\\ 638 220\\ 641 230\\ 644 225\\ 647 232\\ 650 228\\ 653 222\\ 656 230\\ 659 226\\ 662 218\\ 665 225\\
668 205\\ 670 195\\ 671 200\\ 672 185\\ 673 175\\ 674 180\\ 675 165\\ 676 155\\ 677 145\\ 678 135\\ 679 125\\ 680 118\\ 681 110\\ 682 104\\ 683 101\\
705 232\\ 763 235\\ 785 250\\ 785 243\\ 786 236\\
836 240\\ 839 232\\ 842 245\\ 845 228\\ 848 236\\ 851 225\\ 854 232\\ 857 220\\ 860 228\\ 862 215\\ 864 222\\ 866 210\\ 868 218\\ 870 205\\ 872 212\\ 874 200\\ 876 195\\ 878 205\\ 880 190\\
}\botB

\newcommand{\band}[3]{\addplot[fill=#1, draw=none, forget plot] coordinates {(#2,0) (#2,35) (#3,35) (#3,0)};}
\newcommand{\bands}[1]{%
\band{cB}{0}{91}\band{cE}{91}{126.5}\band{cM}{126.5}{176}\band{cR}{176}{270}%
\band{cB}{270}{442}\band{cE}{442}{491}\band{cM}{491}{518}\band{cR}{518}{635}%
\band{cB}{635}{827}\band{cM}{827}{880}\band{cR}{880}{#1}}
\newcommand{\phaselabels}{%
\node[font=\lf] at (axis cs:45.5,31.9) {B0};
\node[font=\lf] at (axis cs:108.75,31.9) {E0};
\node[font=\lf] at (axis cs:151.25,31.9) {M0};
\node[font=\lf] at (axis cs:223,31.9) {R1};
\node[font=\lf] at (axis cs:356,31.9) {B1};
\node[font=\lf] at (axis cs:466.5,31.9) {E1};
\node[font=\lf] at (axis cs:504.5,31.9) {M1};
\node[font=\lf] at (axis cs:576.5,31.9) {R2};
\node[font=\lf] at (axis cs:731,31.9) {B2};
\node[font=\lf] at (axis cs:853.5,31.9) {M2};
\node[font=\lf] at (axis cs:942,31.9) {R3};}

\pgfplotsset{
 flowax/.style={scale only axis, anchor=south west, axis on top, xmin=0, ymin=0, ymax=35,
  axis x line=none, xtick=\empty, axis y line*=right,
  ytick={0,5,10,15,20,25,30,35}, yticklabels={0,5,10,15,20,25,30,35},
  tick align=inside, major tick length=16bp,
  y axis line style={-, flowc, line width=1.6bp}, tick style={flowc, line width=1.5bp},
  yticklabel style={font=\tf, text=flowc, inner sep=0pt, anchor=west, xshift=5bp},
  unbounded coords=jump},
 scatax/.style={scale only axis, anchor=south west, xmin=0, clip=false,
  axis x line*=bottom, axis y line*=left,
  xtick={0,182,366,547,731,912}, xticklabels={Jan 2016,Jul 2016,Jan 2017,Jul 2017,Jan 2018,Jul 2018},
  tick align=inside, major tick length=16bp,
  x axis line style={-, black!60, line width=1.6bp}, y axis line style={-, black, line width=1.6bp},
  tick style={black!80, line width=1.3bp},
  xticklabel style={font=\tf, inner sep=0pt, anchor=north, yshift=-12bp},
  yticklabel style={font=\tf, inner sep=0pt, anchor=east, xshift=-5bp}},
 flowline/.style={flowc, line width=1.3bp},
 hA/.style={only marks, mark=square*, mark size=2.9bp, color=hysA,
  legend image code/.code={\path (-58bp,0bp) (55bp,0bp); \draw[##1, line width=0.4bp, mark size=2.6bp] plot coordinates {(0bp,0bp)};}},
 hB/.style={only marks, mark=square*, mark size=2.9bp, color=hysB,
  legend image code/.code={\path (-58bp,0bp) (55bp,0bp); \draw[##1, line width=0.4bp, mark size=2.6bp] plot coordinates {(0bp,0bp)};}},
}

\begin{document}
\begin{tikzpicture}
\path[use as bounding box] (0,0) rectangle (1889bp,834bp);
\fill[strip] (148bp,829bp) rectangle (1889bp,834bp);

% ---------- top panel ----------
\begin{axis}[flowax, at={(133bp,434bp)}, width=1637bp, height=331bp, xmax=1000]
\bands{1000}
\addplot[flowline] table[x=d,y=q]{\flow};
\phaselabels
\end{axis}
\begin{axis}[scatax, at={(133bp,434bp)}, width=1637bp, height=331bp, xmax=1000,
  ymin=-14.5, ymax=-10.5, ytick={-14,-13,-12,-11}, yticklabels={-14,-13,-12,-11},
  legend cell align=left,
  legend style={at={(0.01527,0.5982)}, anchor=north west, draw=black, line width=1.2bp, fill=white,
    inner xsep=0pt, inner ysep=9bp, font=\fontsize{20bp}{24bp}\selectfont, row sep=6bp,
    nodes={inner sep=0pt, text height=15bp, text depth=5bp, text width=60bp}}]
\addplot[hA] table[x=d,y=v]{\topA};
\addlegendentry{HyS1}
\addplot[hB] table[x=d,y=v]{\topB};
\addlegendentry{HyS2}
\end{axis}

% ---------- bottom panel ----------
\begin{axis}[flowax, at={(126bp,34bp)}, width=1645bp, height=327bp, xmax=1005]
\bands{1005}
\addplot[flowline] table[x=d,y=q]{\flow};
\phaselabels
\end{axis}
\begin{axis}[scatax, at={(126bp,34bp)}, width=1645bp, height=327bp, xmax=1005,
  ymin=100, ymax=350, ytick={100,150,200,250,300,350}, yticklabels={100,150,200,250,300,350}]
\addplot[hA] table[x=d,y=v]{\botA};
\addplot[hB] table[x=d,y=v]{\botB};
\end{axis}

% ---------- axis titles ----------
\node[rotate=90, anchor=base, font=\fontsize{54bp}{60bp}\selectfont] at (72bp,612bp)
  {{\greekserif\itshape δ}\raisebox{0.42em}{\fontsize{32bp}{32bp}\selectfont 18}O VSMOW [‰]};
\node[rotate=90, anchor=base, font=\fontsize{37bp}{42bp}\selectfont] at (53bp,242bp)
  {E.C. (µS cm\raisebox{0.45em}{\fontsize{24bp}{24bp}\selectfont −1})};
\node[rotate=90, anchor=base, text=flowc, font=\fontsize{67bp}{72bp}\selectfont] at (1867bp,446bp)
  {Streamflow [mm/d]};
\end{tikzpicture}
\end{document}
